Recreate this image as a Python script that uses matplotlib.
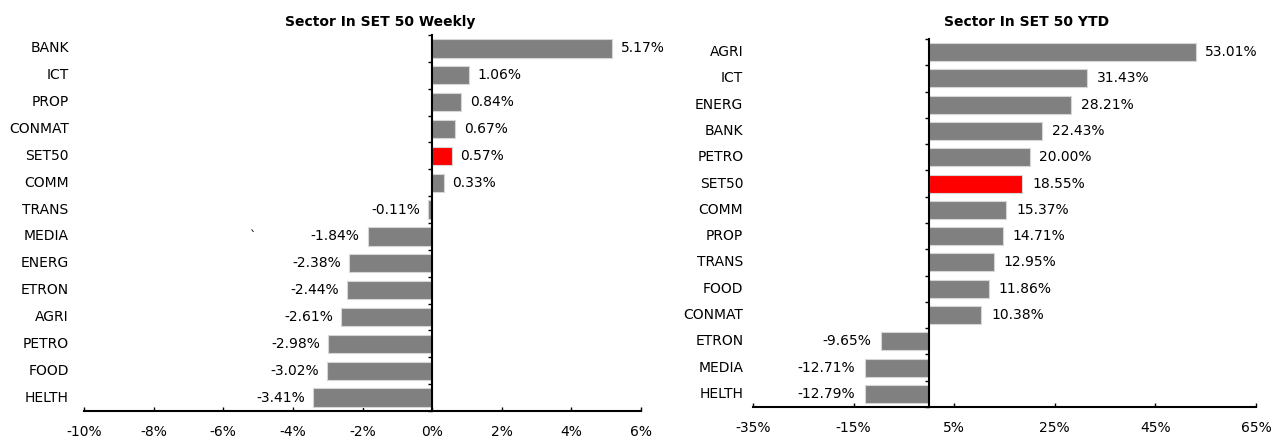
import numpy as np
import matplotlib
matplotlib.use('Agg')
from matplotlib import pyplot as plt
from matplotlib.transforms import blended_transform_factory

weekly_sectors = ['BANK', 'ICT', 'PROP', 'CONMAT', 'SET50', 'COMM', 'TRANS',
                  'MEDIA', 'ENERG', 'ETRON', 'AGRI', 'PETRO', 'FOOD', 'HELTH']
weekly_values = [5.17, 1.06, 0.84, 0.67, 0.57, 0.33, -0.11,
                 -1.84, -2.38, -2.44, -2.61, -2.98, -3.02, -3.41]

ytd_sectors = ['AGRI', 'ICT', 'ENERG', 'BANK', 'PETRO', 'SET50', 'COMM',
               'PROP', 'TRANS', 'FOOD', 'CONMAT', 'ETRON', 'MEDIA', 'HELTH']
ytd_values = [53.01, 31.43, 28.21, 22.43, 20.00, 18.55, 15.37,
              14.71, 12.95, 11.86, 10.38, -9.65, -12.71, -12.79]

GRAY = '#808080'
RED = '#ff0000'
plt.rcParams['font.family'] = ['DejaVu Sans']
plt.rcParams['font.size'] = 10


def draw(ax, sectors, values, xmin, xmax, step, name_gap, val_gap):
    ypos = np.arange(len(sectors))
    colors = [RED if s == 'SET50' else GRAY for s in sectors]
    ax.barh(ypos, values, height=0.68, color=colors,
            edgecolor='#d6d6d6', linewidth=0.8, zorder=2)
    ax.set_ylim(len(sectors) - 0.5, -0.5)
    ax.set_xlim(xmin, xmax)
    ax.set_xticks(np.arange(xmin, xmax + step / 2, step))
    ax.xaxis.set_major_formatter(lambda v, p: f'{v:.0f}%')

    for side in ['top', 'right']:
        ax.spines[side].set_visible(False)
    ax.spines['left'].set_position(('data', 0))
    ax.spines['left'].set_linewidth(1.5)
    ax.spines['bottom'].set_linewidth(1.5)
    ax.spines['left'].set_zorder(3)

    # ticks between categories, labels drawn by hand at the left edge
    ax.set_yticks(np.arange(-0.5, len(sectors)))
    ax.set_yticklabels([])
    ax.tick_params(axis='y', direction='out', length=3, width=1)
    ax.tick_params(axis='x', direction='in', length=3, width=1, pad=10,
                   labelsize=10)

    trans = blended_transform_factory(ax.transAxes, ax.transData)
    for i, s in enumerate(sectors):
        ax.annotate(s, xy=(0, i), xycoords=trans, xytext=(-name_gap, 0),
                    textcoords='offset points', ha='right', va='center')

    for i, v in enumerate(values):
        if v >= 0:
            ax.annotate(f'{v:.2f}%', xy=(v, i), xytext=(val_gap, 0),
                        textcoords='offset points', ha='left', va='center')
        else:
            ax.annotate(f'{v:.2f}%', xy=(v, i), xytext=(-val_gap, 0),
                        textcoords='offset points', ha='right', va='center')


fig = plt.figure(figsize=(12.79, 4.4), dpi=100)
fig.patch.set_facecolor('white')

ax1 = fig.add_axes([84 / 1279, 29 / 440, 557 / 1279, 376 / 440])
draw(ax1, weekly_sectors, weekly_values, -10, 6, 2, 11, 6)
ax1.text(-5.15, 7, '`', ha='center', va='center', fontsize=9)

ax2 = fig.add_axes([753 / 1279, 33 / 440, 503 / 1279, 368 / 440])
draw(ax2, ytd_sectors, ytd_values, -35, 65, 20, 7, 7)

fig.text(380 / 1279, 1 - 22 / 440, 'Sector In SET 50 Weekly',
         ha='center', va='center', fontsize=10, fontweight='bold')
fig.text(1027 / 1279, 1 - 22 / 440, 'Sector In SET 50 YTD',
         ha='center', va='center', fontsize=10, fontweight='bold')

fig.savefig('out.png', dpi=100, facecolor='white')
